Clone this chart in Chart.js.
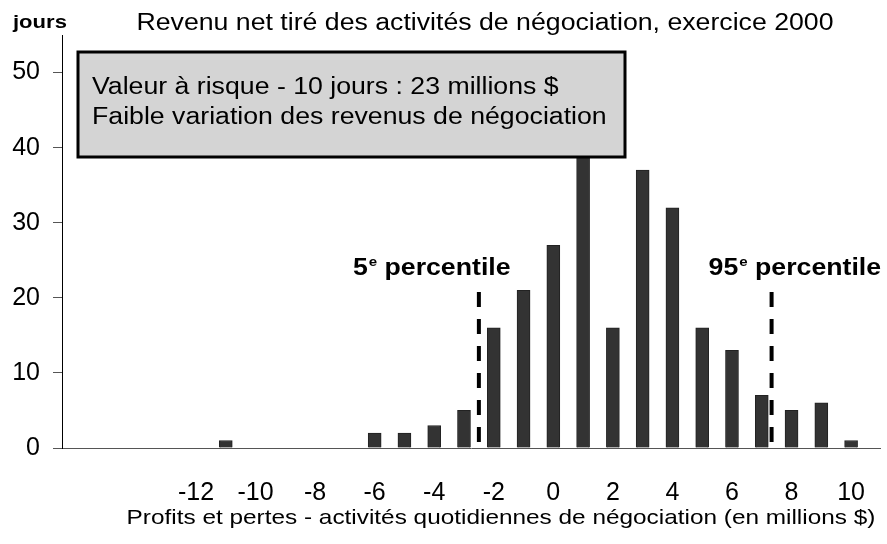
<!DOCTYPE html>
<html>
<head>
<meta charset="utf-8">
<script src="https://cdn.jsdelivr.net/npm/chart.js@4"></script>
<style>
  body { margin: 0; background: #fff; }
</style>
</head>
<body>
<canvas id="myChart" width="887" height="544"></canvas>
<script>
'use strict';

// Data

let bins = [-12, -11, -10, -9, -8, -7, -6, -5, -4, -3, -2, -1, 0, 1, 2, 3, 4, 5, 6, 7, 8, 9, 10];
let days = [0, 1, 0, 0, 0, 0, 2, 2, 3, 5, 16, 21, 27, 41, 16, 37, 32, 16, 13, 7, 5, 6, 1];

let xTicks = [-12, -10, -8, -6, -4, -2, 0, 2, 4, 6, 8, 10];
let yTicks = [0, 10, 20, 30, 40, 50];

let percentileNames = ['5', '95'];
let percentileValues = [-2.5, 7.33];
let percentileRange = [0.8, 20.8];

let chartTitle = 'Revenu net tiré des activités de négociation, exercice 2000';
let yTitle = 'jours';
let xTitle = 'Profits et pertes - activités quotidiennes de négociation (en millions $)';
let boxLines = ['Valeur à risque - 10 jours : 23 millions $', 'Faible variation des revenus de négociation'];

const FONT = '"Liberation Sans", Arial, sans-serif';
const STRETCH = 1.16; // text in the original is a bit wide

// Build datasets

let barData = bins.map((b, i) => ({ x: b, y: days[i] }));

let lineSets = percentileValues.map(v => ({
  type: 'line',
  data: [{ x: v, y: percentileRange[0] }, { x: v, y: percentileRange[1] }],
  borderColor: '#000',
  borderWidth: 4,
  borderDash: [15, 12],
  pointRadius: 0,
  fill: false
}));

// helper: text with a horizontal stretch
function wideText(ctx, text, x, y, font, align) {
  ctx.save();
  ctx.font = font;
  ctx.textAlign = align || 'left';
  ctx.textBaseline = 'alphabetic';
  ctx.translate(x, y);
  ctx.scale(STRETCH, 1);
  ctx.fillText(text, 0, 0);
  let w = ctx.measureText(text).width * STRETCH;
  ctx.restore();
  return w;
}

// Extra text drawn on the canvas

const notes = {
  id: 'notes',
  afterDatasetsDraw(chart) {
    const ctx = chart.ctx;
    const x = chart.scales.x;
    const y = chart.scales.y;
    ctx.save();
    ctx.fillStyle = '#000';

    // box
    ctx.fillStyle = '#d4d4d4';
    ctx.fillRect(78, 52, 547, 105);
    ctx.lineWidth = 3;
    ctx.strokeStyle = '#000';
    ctx.strokeRect(78, 52, 547, 105);
    ctx.fillStyle = '#000';
    wideText(ctx, boxLines[0], 92, 94, '23px ' + FONT);
    wideText(ctx, boxLines[1], 92, 124, '23px ' + FONT);

    // percentile labels
    let base = y.getPixelForValue(0) - 173;
    for (let i = 0; i < percentileValues.length; i++) {
      let px = x.getPixelForValue(percentileValues[i]);
      let sx = i === 0 ? px - 126 : px - 63;
      sx += wideText(ctx, percentileNames[i], sx, base, 'bold 23px ' + FONT);
      sx += wideText(ctx, 'e', sx + 1, base - 9, 'bold 13px ' + FONT);
      wideText(ctx, ' percentile', sx + 1, base, 'bold 23px ' + FONT);
    }

    // title, y label, x title
    wideText(ctx, chartTitle, 485, 30, '23px ' + FONT, 'center');
    wideText(ctx, yTitle, 13, 28, 'bold 19px ' + FONT);
    wideText(ctx, xTitle, 501, 524, '21px ' + FONT, 'center');
    ctx.restore();
  }
};

// Render chart

const ctx = document.getElementById('myChart').getContext('2d');
const myChart = new Chart(ctx, {
  type: 'bar',
  data: {
    datasets: [
      ...lineSets,
      {
        label: 'jours',
        data: barData,
        backgroundColor: '#333333',
        borderColor: '#222222',
        borderWidth: 1,
        barThickness: 13
      }
    ]
  },
  options: {
    responsive: false,
    animation: false,
    layout: { padding: { top: 35, left: 0, right: 0, bottom: 0 } },
    plugins: {
      legend: { display: false },
      tooltip: { enabled: false },
      title: { display: false }
    },
    scales: {
      x: {
        type: 'linear',
        offset: false,
        min: -16.5,
        max: 11,
        afterBuildTicks: axis => { axis.ticks = xTicks.map(v => ({ value: v })); },
        afterFit: axis => { axis.height = 96; },
        grid: { display: false, offset: false },
        border: { color: '#555', width: 1 },
        ticks: {
          color: '#000',
          padding: 22,
          maxRotation: 0,
          autoSkip: false,
          font: { family: FONT, size: 25 }
        }
      },
      y: {
        min: 0,
        max: 55,
        afterBuildTicks: axis => { axis.ticks = yTicks.map(v => ({ value: v })); },
        afterFit: axis => { axis.width = 62; },
        grid: { drawOnChartArea: false, tickLength: 9, color: '#555' },
        border: { color: '#000', width: 1 },
        ticks: {
          color: '#000',
          padding: 13,
          font: { family: FONT, size: 25 }
        }
      }
    }
  },
  plugins: [notes]
});
</script>
</body>
</html>
